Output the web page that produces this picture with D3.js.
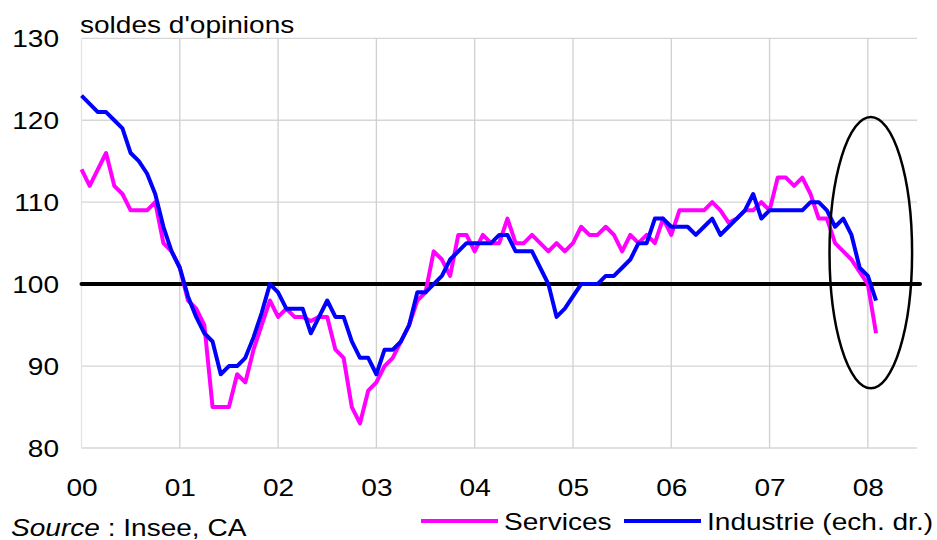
<!DOCTYPE html>
<html>
<head>
<meta charset="utf-8">
<script src="https://cdn.jsdelivr.net/npm/d3@7"></script>
<style>
  body { margin: 0; background: #fff; }
  svg text { font-family: "Liberation Sans", Arial, sans-serif; font-size: 23px; fill: #000; }
</style>
</head>
<body>
<svg id="chart" width="937" height="540"></svg>
<script>
// tick values / labels
var years = [2000, 2001, 2002, 2003, 2004, 2005, 2006, 2007, 2008];
var yearLabels = ["00", "01", "02", "03", "04", "05", "06", "07", "08"];
var yTicks = [80, 90, 100, 110, 120, 130];
var seriesNames = ["Services", "Industrie (ech. dr.)"];
var refLevel = 100;

// monthly values, jan 2000 -> feb 2008
var services = [
  114, 112, 114, 116, 112, 111, 109, 109, 109, 110, 105, 104,
  102, 98, 97, 95, 85, 85, 85, 89, 88, 92, 95, 98,
  96, 97, 96, 96, 95.5, 96, 96, 92, 91, 85, 83, 87,
  88, 90, 91, 93, 95, 98, 99, 104, 103, 101, 106, 106,
  104, 106, 105, 105, 108, 105, 105, 106, 105, 104, 105, 104,
  105, 107, 106, 106, 107, 106, 104, 106, 105, 106, 105, 108,
  106, 109, 109, 109, 109, 110, 109, 107.5, 108, 109, 109, 110,
  109, 113, 113, 112, 113, 111, 108, 108, 105, 104, 103, 101.5,
  100, 94
];
var industrie = [
  123, 122, 121, 121, 120, 119, 116, 115, 113.5, 111, 107, 104,
  102, 98.5, 96, 94, 93, 89, 90, 90, 91, 93.5, 96.5, 100,
  99, 97, 97, 97, 94, 96, 98, 96, 96, 93, 91, 91,
  89, 92, 92, 93, 95, 99, 99, 100, 101, 103, 104, 105,
  105, 105, 105, 106, 106, 104, 104, 104, 102, 100, 96, 97,
  98.5, 100, 100, 100, 101, 101, 102, 103, 105, 105, 108, 108,
  107, 107, 107, 106, 107, 108, 106, 107, 108, 109, 111, 108,
  109, 109, 109, 109, 109, 110, 110, 109, 107, 108, 106, 102,
  101, 98
];

// annotation ellipse (data units)
var ellipseX = [2007.61, 2008.45];
var ellipseY = [87.3, 120.4];

var svg = d3.select("#chart"),
    stretch = 1.22;

var x = d3.scaleLinear().domain([2000, 2008.5]).range([81.5, 917]);
var y = d3.scaleLinear().domain([80, 130]).range([448, 38.3]);

function monthDate(i) { return 2000 + i / 12; }

// text in the reference is a bit wide
function widen(sel) {
  sel.attr("transform", "scale(" + stretch + ",1)");
}

// grid
var grid = svg.append("g");
grid.selectAll(".hg")
    .data(yTicks)
  .enter().append("line")
    .attr("x1", x.range()[0])
    .attr("x2", x.range()[1])
    .attr("y1", function(d) { return y(d); })
    .attr("y2", function(d) { return y(d); })
    .attr("stroke", "#d6d6d6")
    .attr("stroke-width", 1.3);
grid.selectAll(".vg")
    .data(years)
  .enter().append("line")
    .attr("x1", function(d) { return x(d); })
    .attr("x2", function(d) { return x(d); })
    .attr("y1", y(80))
    .attr("y2", y(130))
    .attr("stroke", function(d) { return d == 2000 ? "#e4e4e4" : "#d0d0d0"; })
    .attr("stroke-width", 1.3);

// axes
var yAxis = svg.append("g")
    .attr("transform", "translate(" + x.range()[0] + ",0)")
    .call(d3.axisLeft(y).tickValues(yTicks).tickSize(0).tickPadding(18.4));
yAxis.select(".domain").remove();
yAxis.selectAll("text")
    .attr("dy", "0.36em")
    .style("font-size", "23px")
    .style("font-family", "Liberation Sans, Arial, sans-serif")
    .call(widen);

var xAxis = svg.append("g")
    .attr("transform", "translate(0," + y(80) + ")")
    .call(d3.axisBottom(x).tickValues(years).tickSize(0).tickPadding(32)
      .tickFormat(function(d, i) { return yearLabels[i]; }));
xAxis.select(".domain").remove();
xAxis.selectAll("text")
    .style("font-size", "23px")
    .style("font-family", "Liberation Sans, Arial, sans-serif")
    .call(widen);

// reference line at 100
svg.append("line")
    .attr("x1", x.range()[0])
    .attr("x2", x.range()[1] + 3)
    .attr("y1", y(refLevel))
    .attr("y2", y(refLevel))
    .attr("stroke", "#000")
    .attr("stroke-width", 4)
    .attr("stroke-linecap", "round");

var line = d3.line()
    .x(function(d, i) { return x(monthDate(i)); })
    .y(function(d) { return y(d); });

svg.append("path")
    .datum(services)
    .attr("d", line)
    .attr("fill", "none")
    .attr("stroke", "#ff00ff")
    .attr("stroke-width", 4)
    .attr("stroke-linejoin", "round");

svg.append("path")
    .datum(industrie)
    .attr("d", line)
    .attr("fill", "none")
    .attr("stroke", "#0000ff")
    .attr("stroke-width", 4)
    .attr("stroke-linejoin", "round");

// ellipse
svg.append("ellipse")
    .attr("cx", (x(ellipseX[0]) + x(ellipseX[1])) / 2)
    .attr("cy", (y(ellipseY[0]) + y(ellipseY[1])) / 2)
    .attr("rx", (x(ellipseX[1]) - x(ellipseX[0])) / 2)
    .attr("ry", (y(ellipseY[0]) - y(ellipseY[1])) / 2)
    .attr("fill", "none")
    .attr("stroke", "#000")
    .attr("stroke-width", 2.5);

// title
svg.append("g")
    .attr("transform", "translate(80,33)")
  .append("text")
    .text("soldes d'opinions")
    .call(widen);

// source
var src = svg.append("g")
    .attr("transform", "translate(11,536)")
  .append("text")
    .call(widen);
src.append("tspan").style("font-style", "italic").text("Source");
src.append("tspan").text(" : Insee, CA");

// legend
var legend = [
  {name: seriesNames[0], color: "#ff00ff", x0: 421, x1: 498},
  {name: seriesNames[1], color: "#0000ff", x0: 624, x1: 701}
];
var lg = svg.selectAll(".legend")
    .data(legend)
  .enter().append("g")
    .attr("transform", function(d) { return "translate(" + d.x0 + ",521)"; });
lg.append("line")
    .attr("x1", 0)
    .attr("x2", function(d) { return d.x1 - d.x0; })
    .attr("stroke", function(d) { return d.color; })
    .attr("stroke-width", 4);
lg.append("g")
    .attr("transform", function(d) { return "translate(" + (d.x1 - d.x0 + 6) + ",9)"; })
  .append("text")
    .text(function(d) { return d.name; })
    .call(widen);
</script>
</body>
</html>
